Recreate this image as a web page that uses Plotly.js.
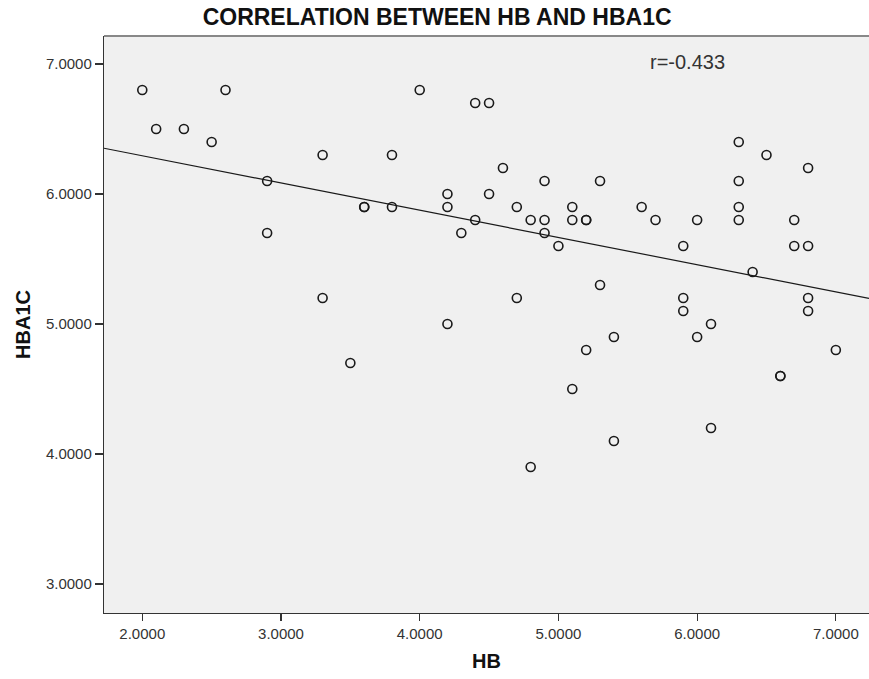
<!DOCTYPE html>
<html>
<head>
<meta charset="utf-8">
<script src="https://cdn.plot.ly/plotly-3.0.1.min.js"></script>
<style>html,body{margin:0;padding:0;background:#fff;}#chart{width:869px;height:679px;}</style>
</head>
<body>
<div id="chart"></div>
<script>
// HB values (x)
const hb = [
  2.0, 2.6, 4.0, 2.1, 2.3, 2.5, 3.3, 3.8, 2.9, 4.2,
  4.2, 3.6, 3.6, 3.8, 4.4, 4.3, 2.9, 3.3, 4.2, 3.5,
  4.4, 4.5, 6.3, 6.5, 6.8, 4.6, 4.9, 5.3, 6.3, 4.5,
  4.7, 5.1, 5.6, 6.3, 4.8, 4.9, 5.1, 5.2, 5.2, 5.7,
  6.0, 6.3, 6.7, 4.9, 5.0, 5.9, 6.7, 6.8, 6.4, 5.3,
  4.7, 5.9, 5.9, 6.8, 6.8, 6.1, 6.0, 5.4, 5.2, 7.0,
  6.6, 6.6, 5.1, 6.1, 5.4, 4.8
];
// HBA1C values (y)
const hba1c = [
  6.8, 6.8, 6.8, 6.5, 6.5, 6.4, 6.3, 6.3, 6.1, 6.0,
  5.9, 5.9, 5.9, 5.9, 5.8, 5.7, 5.7, 5.2, 5.0, 4.7,
  6.7, 6.7, 6.4, 6.3, 6.2, 6.2, 6.1, 6.1, 6.1, 6.0,
  5.9, 5.9, 5.9, 5.9, 5.8, 5.8, 5.8, 5.8, 5.8, 5.8,
  5.8, 5.8, 5.8, 5.7, 5.6, 5.6, 5.6, 5.6, 5.4, 5.3,
  5.2, 5.2, 5.1, 5.2, 5.1, 5.0, 4.9, 4.9, 4.8, 4.8,
  4.6, 4.6, 4.5, 4.2, 4.1, 3.9
];
const xTicks = [2, 3, 4, 5, 6, 7];
const yTicks = [3, 4, 5, 6, 7];
const rLabel = "r=-0.433";
const titleText = "CORRELATION BETWEEN HB AND HBA1C";

// fit line
const fitIntercept = 6.713;
const fitSlope = -0.2095;

const xRange = [1.724, 7.239];
const yRange = [2.777, 7.215];

const fitX = [xRange[0], xRange[1]];
const fitY = fitX.map(x => fitIntercept + fitSlope * x);

const traces = [
  {
    x: fitX, y: fitY, mode: 'lines', type: 'scatter',
    line: {color: '#1a1a1a', width: 1.2}, hoverinfo: 'skip', showlegend: false
  },
  {
    x: hb, y: hba1c, mode: 'markers', type: 'scatter',
    marker: {symbol: 'circle-open', size: 9, color: '#1a1a1a', line: {width: 1.6, color: '#1a1a1a'}},
    showlegend: false
  }
];

const font = 'Liberation Sans, Arial, sans-serif';
const layout = {
  width: 869, height: 679,
  margin: {l: 104, r: 0, t: 36, b: 66},
  paper_bgcolor: '#ffffff',
  plot_bgcolor: '#f0f0f0',
  font: {family: font, color: '#222'},
  title: {
    text: '<b>' + titleText + '</b>',
    font: {family: font, size: 23, color: '#111'},
    x: 0.503, xref: 'container', xanchor: 'center',
    y: 0.975, yref: 'container', yanchor: 'middle'
  },
  xaxis: {
    range: xRange, tickvals: xTicks, tickformat: '.4f',
    showgrid: false, zeroline: false,
    showline: true, linecolor: '#333', linewidth: 1.2,
    ticks: 'outside', ticklen: 7, tickcolor: '#333', tickwidth: 1.2,
    tickfont: {family: font, size: 15, color: '#333'},
    title: {text: '<b>HB</b>', font: {family: font, size: 20, color: '#111'}, standoff: 12}
  },
  yaxis: {
    range: yRange, tickvals: yTicks, tickformat: '.4f',
    showgrid: false, zeroline: false,
    showline: true, linecolor: '#333', linewidth: 1.2,
    ticks: 'outside', ticklen: 8, tickcolor: '#333', tickwidth: 1.2,
    tickfont: {family: font, size: 15, color: '#333'},
    title: {text: '<b>HBA1C</b>', font: {family: font, size: 20, color: '#111'}, standoff: 10}
  },
  shapes: [
    {type: 'line', xref: 'paper', yref: 'paper', x0: 0, x1: 1, y0: 1, y1: 1,
     line: {color: '#888', width: 2}}
  ],
  annotations: [
    {text: rLabel, xref: 'paper', yref: 'paper',
     x: (687 - 104) / 765, y: 1 - (62 - 36) / 577, xanchor: 'center', yanchor: 'middle',
     showarrow: false, font: {family: font, size: 20, color: '#333'}}
  ]
};

Plotly.newPlot('chart', traces, layout, {displayModeBar: false, staticPlot: true});
</script>
</body>
</html>
